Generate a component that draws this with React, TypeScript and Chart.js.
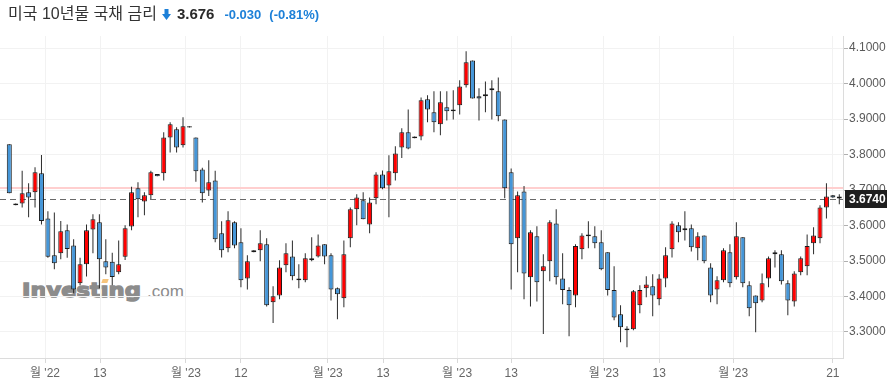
import React, { useEffect, useRef } from 'react';
import { Chart, registerables } from 'chart.js';

Chart.register(...registerables);

// Daily OHLC of US 10Y Treasury yield
const opens = [3.829, 3.657, 3.662, 3.694, 3.694, 3.747, 3.620, 3.516, 3.522, 3.587,
  3.544, 3.437, 3.491, 3.589, 3.609, 3.499, 3.498, 3.468, 3.512, 3.597,
  3.705, 3.668, 3.685, 3.745, 3.747, 3.848, 3.871, 3.826, 3.876, 3.848,
  3.758, 3.699, 3.727, 3.578, 3.536, 3.609, 3.553, 3.451, 3.525, 3.530,
  3.547, 3.384, 3.403, 3.488, 3.513, 3.446, 3.446, 3.502, 3.513, 3.547,
  3.516, 3.423, 3.395, 3.564, 3.646, 3.671, 3.603, 3.677, 3.744, 3.713,
  3.747, 3.820, 3.863, 3.846, 3.851, 3.956, 3.919, 3.885, 3.933, 3.922,
  3.939, 3.995, 4.065, 3.964, 3.964, 3.981, 3.978, 3.899, 3.750, 3.564,
  3.696, 3.454, 3.570, 3.471, 3.499, 3.606, 3.451, 3.418, 3.403, 3.533,
  3.575, 3.570, 3.553, 3.525, 3.418, 3.350, 3.310, 3.308, 3.375, 3.423,
  3.429, 3.392, 3.451, 3.533, 3.601, 3.587, 3.592, 3.536, 3.572, 3.482,
  3.420, 3.446, 3.525, 3.454, 3.567, 3.432, 3.403, 3.389, 3.451, 3.519,
  3.519, 3.437, 3.386, 3.468, 3.485, 3.550, 3.564, 3.651, 3.685, 3.682];
const highs = [3.829, 3.662, 3.754, 3.719, 3.764, 3.799, 3.640, 3.637, 3.613, 3.603,
  3.561, 3.509, 3.603, 3.632, 3.632, 3.561, 3.523, 3.558, 3.601, 3.709,
  3.722, 3.694, 3.754, 3.745, 3.863, 3.891, 3.877, 3.905, 3.880, 3.848,
  3.763, 3.784, 3.754, 3.612, 3.640, 3.612, 3.592, 3.516, 3.530, 3.587,
  3.564, 3.429, 3.502, 3.550, 3.558, 3.491, 3.522, 3.567, 3.575, 3.547,
  3.522, 3.425, 3.558, 3.651, 3.688, 3.694, 3.679, 3.750, 3.755, 3.798,
  3.823, 3.874, 3.927, 3.851, 3.961, 3.967, 3.978, 3.978, 3.978, 3.981,
  4.009, 4.091, 4.065, 3.987, 4.006, 4.009, 4.017, 3.899, 3.761, 3.696,
  3.711, 3.587, 3.598, 3.519, 3.615, 3.646, 3.522, 3.426, 3.547, 3.578,
  3.612, 3.598, 3.587, 3.525, 3.485, 3.375, 3.316, 3.418, 3.432, 3.457,
  3.463, 3.463, 3.539, 3.612, 3.609, 3.640, 3.603, 3.581, 3.572, 3.494,
  3.457, 3.536, 3.547, 3.609, 3.567, 3.443, 3.403, 3.465, 3.513, 3.530,
  3.530, 3.446, 3.471, 3.513, 3.575, 3.595, 3.657, 3.719, 3.686, 3.688];
const lows = [3.691, 3.657, 3.651, 3.623, 3.651, 3.603, 3.509, 3.477, 3.505, 3.509,
  3.409, 3.432, 3.456, 3.522, 3.423, 3.463, 3.432, 3.463, 3.503, 3.587,
  3.623, 3.629, 3.675, 3.739, 3.727, 3.806, 3.806, 3.820, 3.876, 3.723,
  3.665, 3.683, 3.553, 3.510, 3.525, 3.536, 3.426, 3.420, 3.525, 3.499,
  3.372, 3.325, 3.392, 3.468, 3.446, 3.423, 3.440, 3.499, 3.510, 3.491,
  3.389, 3.336, 3.370, 3.539, 3.601, 3.618, 3.578, 3.660, 3.702, 3.623,
  3.727, 3.790, 3.815, 3.846, 3.840, 3.891, 3.863, 3.854, 3.896, 3.899,
  3.913, 3.989, 3.958, 3.896, 3.919, 3.899, 3.894, 3.677, 3.420, 3.468,
  3.392, 3.372, 3.386, 3.294, 3.443, 3.434, 3.378, 3.288, 3.370, 3.505,
  3.536, 3.536, 3.474, 3.403, 3.333, 3.271, 3.257, 3.305, 3.353, 3.398,
  3.344, 3.375, 3.426, 3.510, 3.553, 3.558, 3.527, 3.502, 3.494, 3.384,
  3.378, 3.440, 3.426, 3.448, 3.426, 3.344, 3.299, 3.384, 3.426, 3.482,
  3.434, 3.347, 3.372, 3.460, 3.460, 3.519, 3.550, 3.620, 3.678, 3.660];
const closes = [3.691, 3.662, 3.691, 3.679, 3.750, 3.613, 3.512, 3.494, 3.584, 3.534,
  3.420, 3.491, 3.587, 3.618, 3.505, 3.482, 3.455, 3.491, 3.592, 3.694,
  3.674, 3.685, 3.750, 3.739, 3.848, 3.885, 3.820, 3.880, 3.880, 3.753,
  3.691, 3.722, 3.561, 3.530, 3.615, 3.544, 3.446, 3.499, 3.530, 3.550,
  3.375, 3.401, 3.482, 3.522, 3.457, 3.451, 3.508, 3.508, 3.544, 3.513,
  3.420, 3.406, 3.519, 3.646, 3.679, 3.618, 3.665, 3.744, 3.705, 3.753,
  3.803, 3.863, 3.817, 3.851, 3.953, 3.927, 3.891, 3.947, 3.922, 3.927,
  3.992, 4.060, 3.958, 3.958, 3.970, 3.987, 3.908, 3.705, 3.547, 3.685,
  3.465, 3.581, 3.440, 3.485, 3.609, 3.454, 3.418, 3.375, 3.542, 3.572,
  3.570, 3.550, 3.477, 3.418, 3.341, 3.313, 3.305, 3.415, 3.418, 3.434,
  3.403, 3.451, 3.516, 3.606, 3.581, 3.592, 3.539, 3.570, 3.499, 3.403,
  3.446, 3.530, 3.437, 3.570, 3.437, 3.367, 3.381, 3.437, 3.508, 3.525,
  3.443, 3.389, 3.465, 3.508, 3.542, 3.572, 3.651, 3.682, 3.679, 3.676];

// X axis ticks (position in candle-index units) and their labels
const xTickPositions = [5.55, 14.1, 27.46, 36.0, 49.5, 58.1, 69.6, 78.0, 92.4, 101.0, 112.5, 128.0];
const xTickLabels = ["월 '22", '13', "월 '23", '12', "월 '23", '13', "월 '23", '13', "월 '23", '13', "월 '23", '21'];
const yTickValues = [3.3, 3.4, 3.5, 3.6, 3.7, 3.8, 3.9, 4.0, 4.1];

const prevClose = 3.706;
const lastPrice = 3.674;

const UP = '#ff0000';
const DOWN = '#4596d8';
const FONT = "'Liberation Sans', Arial, 'Noto Sans CJK KR', sans-serif";

export default function App() {
  const ref = useRef<HTMLCanvasElement>(null);

  useEffect(() => {
    document.body.style.margin = '0';
    const idx = opens.map((_, i) => i);

    const refLines = {
      id: 'refLines',
      beforeDatasetsDraw(chart: any) {
        const { ctx, chartArea, scales } = chart;
        const yPrev = scales.y.getPixelForValue(prevClose);
        const yLast = scales.y.getPixelForValue(lastPrice);
        ctx.save();
        ctx.strokeStyle = '#ffcfcf';
        ctx.lineWidth = 2;
        ctx.beginPath();
        ctx.moveTo(chartArea.left, yPrev);
        ctx.lineTo(chartArea.right, yPrev);
        ctx.stroke();
        ctx.strokeStyle = '#6a6a6a';
        ctx.lineWidth = 1;
        ctx.setLineDash([6, 4]);
        ctx.beginPath();
        ctx.moveTo(chartArea.left, Math.round(yLast) + 0.5);
        ctx.lineTo(chartArea.right, Math.round(yLast) + 0.5);
        ctx.stroke();
        ctx.restore();
      },
      afterDraw(chart: any) {
        const { ctx, chartArea, scales } = chart;
        const yLast = Math.round(scales.y.getPixelForValue(lastPrice));
        ctx.save();
        ctx.fillStyle = '#1e1e1e';
        ctx.fillRect(chartArea.right + 2, yLast - 9, 42, 18);
        ctx.fillStyle = '#ffffff';
        ctx.font = 'bold 12px ' + FONT;
        ctx.textAlign = 'left';
        ctx.textBaseline = 'middle';
        ctx.fillText(lastPrice.toFixed(4), chartArea.right + 6, yLast + 0.5);
        ctx.restore();
      },
    };

    const chart = new Chart(ref.current as HTMLCanvasElement, {
      type: 'bar',
      data: {
        datasets: [
          {
            label: 'wick',
            data: idx.map((i) => ({ x: i, y: [lows[i], highs[i]] })),
            backgroundColor: '#2b2b2b',
            borderWidth: 0,
            barThickness: 1,
            grouped: false,
            inflateAmount: 0,
            order: 2,
          },
          {
            label: 'body',
            data: idx.map((i) => ({ x: i, y: [opens[i], closes[i]] })),
            backgroundColor: idx.map((i) => (closes[i] >= opens[i] ? UP : DOWN)),
            borderColor: '#1a1a1a',
            borderWidth: 1,
            borderSkipped: false,
            barThickness: 5,
            grouped: false,
            inflateAmount: 0,
            order: 1,
          },
        ],
      } as any,
      options: {
        animation: false,
        responsive: false,
        devicePixelRatio: 1,
        layout: { padding: { top: 36, left: 0, right: 0, bottom: 0 } },
        plugins: { legend: { display: false }, tooltip: { enabled: false } },
        scales: {
          x: {
            type: 'linear',
            min: -1.445,
            max: 129.575,
            offset: false,
            afterBuildTicks: (scale: any) => {
              scale.ticks = xTickPositions.map((v) => ({ value: v }));
            },
            afterFit: (scale: any) => {
              scale.height = 31;
            },
            ticks: {
              autoSkip: false,
              maxRotation: 0,
              padding: 3,
              color: '#666',
              font: { family: FONT, size: 12 },
              callback: (_v: any, i: number) => xTickLabels[i],
            },
            grid: { offset: false, color: '#f2f2f2', tickColor: '#d8d8d8', tickLength: 5 },
            border: { display: true, color: '#dcdcdc' },
          },
          y: {
            type: 'linear',
            position: 'right',
            min: 3.2267,
            max: 4.134,
            afterBuildTicks: (scale: any) => {
              scale.ticks = yTickValues.map((v) => ({ value: v }));
            },
            afterFit: (scale: any) => {
              scale.width = 53;
            },
            ticks: {
              padding: 1,
              color: '#5a5a5a',
              font: { family: FONT, size: 12 },
              callback: (v: any) => Number(v).toFixed(4),
            },
            grid: { color: '#f2f2f2', tickColor: '#b0b0b0', tickLength: 5 },
            border: { display: true, color: '#dcdcdc' },
          },
        },
      } as any,
      plugins: [refLines],
    });
    return () => chart.destroy();
  }, []);

  return (
    <div style={{ position: 'fixed', left: 0, top: 0, width: 896, height: 389, background: '#fff', overflow: 'hidden' }}>
      <div
        style={{
          position: 'absolute', left: 22, top: 280, lineHeight: '20px', whiteSpace: 'nowrap',
          fontFamily: "'DejaVu Sans', sans-serif", fontWeight: 700, fontSize: 20, color: '#8c8c8c',
          WebkitTextStroke: '1.4px #8c8c8c', transform: 'scaleX(1.13)', transformOrigin: '0 0',
        }}
      >
        Investıng
      </div>
      <div
        style={{
          position: 'absolute', left: 102, top: 279, width: 6, height: 4,
          background: '#f6c57c', transform: 'skewX(-20deg)',
        }}
      />
      <div
        style={{
          position: 'absolute', left: 147, top: 283, lineHeight: '17px', whiteSpace: 'nowrap',
          fontFamily: "'Liberation Sans', Arial, sans-serif", fontSize: 17, color: '#8c8c8c',
        }}
      >
        .com
      </div>
      <canvas ref={ref} width={896} height={389} style={{ position: 'absolute', left: 0, top: 0, width: 896, height: 389 }} />
      <div
        style={{
          position: 'absolute', left: 8, top: 0, height: 28, lineHeight: '28px', whiteSpace: 'nowrap',
          fontFamily: "'Liberation Sans', Arial, 'Noto Sans CJK KR', sans-serif", fontSize: 16, color: '#333',
        }}
      >
        <span>미국 10년물 국채 금리</span>
        <svg width="9" height="11" viewBox="0 0 9 11" style={{ marginLeft: 5, verticalAlign: '-1px' }}>
          <polygon points="2.5,0 6.5,0 6.5,5 9,5 4.5,11 0,5 2.5,5" fill="#1d80d8" />
        </svg>
        <span style={{ marginLeft: 6, fontWeight: 700, fontSize: 15, color: '#2a2a2a' }}>3.676</span>
        <span style={{ marginLeft: 10, fontWeight: 700, fontSize: 13, color: '#1d80d8' }}>-0.030</span>
        <span style={{ marginLeft: 8, fontWeight: 700, fontSize: 13, color: '#1d80d8' }}>(-0.81%)</span>
      </div>
    </div>
  );
}
